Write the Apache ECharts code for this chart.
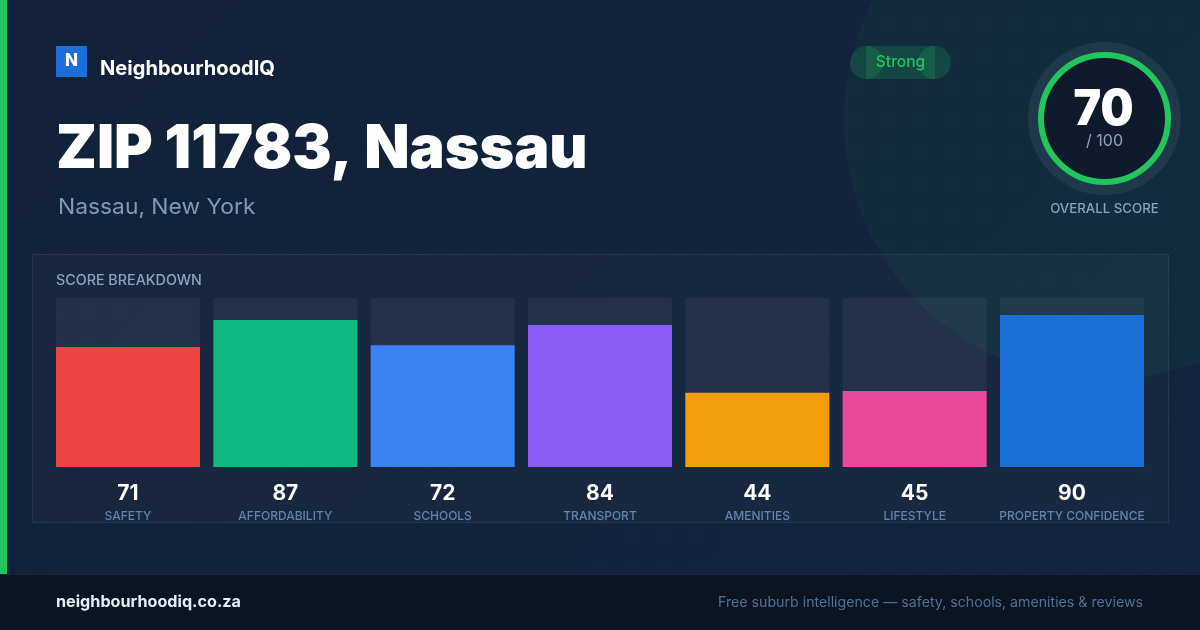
<!DOCTYPE html>
<html>
<head>
<meta charset="utf-8">
<title>ZIP 11783, Nassau</title>
<script src="https://cdn.jsdelivr.net/npm/echarts@6/dist/echarts.min.js"></script>
<style>
html, body { margin: 0; padding: 0; width: 1200px; height: 630px; overflow: hidden; }
body {
    background-color: #11213a;
    background-image: radial-gradient(circle at 24px 24px, rgba(255,255,255,0.04) 1px, transparent 1.5px), linear-gradient(135deg, #11213a, #12243e);
    background-size: 32px 32px, 100% 100%;
}
#main { width: 1200px; height: 630px; }
</style>
</head>
<body>
<div id="main"></div>
<script type="text/javascript">
var categories = ['SAFETY', 'AFFORDABILITY', 'SCHOOLS', 'TRANSPORT', 'AMENITIES', 'LIFESTYLE', 'PROPERTY CONFIDENCE'];
var scores = [71, 87, 72, 84, 44, 45, 90];
var barColors = ['#ef4444', '#10b981', '#3b82f6', '#8b5cf6', '#f59e0b', '#ec4899', '#1d6fd8'];
var overallScore = 70;

var FONT = 'Inter, sans-serif';

var myChart = echarts.init(document.getElementById('main'), null, { renderer: 'canvas' });

// sx stretches the text a little, zrender has no letter spacing
function txt(x, y, text, size, weight, color, align, sx) {
    return {
        type: 'text', x: x, y: y, scaleX: sx || 1, z: 10,
        style: {
            text: text, fontFamily: FONT, fontSize: size, fontWeight: weight,
            fill: color, align: align || 'left', verticalAlign: 'middle'
        }
    };
}

var option = {
    backgroundColor: 'transparent',
    animation: false,
    grid: { left: 49.33, top: 298, width: 1101.33, height: 169, containLabel: false },
    xAxis: {
        type: 'category',
        data: categories,
        axisLine: { show: false },
        axisTick: { show: false },
        axisLabel: {
            interval: 0,
            margin: 14,
            formatter: function (name, i) {
                return '{v|' + scores[i] + '}\n{n|' + name + '}';
            },
            rich: {
                v: { fontFamily: FONT, fontSize: 21, fontWeight: 700, color: '#ffffff', lineHeight: 26, align: 'center' },
                n: { fontFamily: FONT, fontSize: 12, fontWeight: 500, color: '#6384a9', lineHeight: 18, align: 'center' }
            }
        }
    },
    yAxis: { type: 'value', min: 0, max: 100, show: false },
    series: [{
        type: 'bar',
        barWidth: 144,
        data: scores.map(function (v, i) {
            return { value: v, itemStyle: { color: barColors[i] } };
        }),
        showBackground: true,
        backgroundStyle: { color: 'rgba(255,255,255,0.05)' },
        z: 5
    }],
    graphic: [
        // soft green circle, top right
        { type: 'circle', shape: { cx: 1104, cy: 120, r: 260 }, style: { fill: 'rgba(34,197,94,0.06)' }, z: -10 },
        // left accent and footer
        { type: 'rect', shape: { x: 0, y: 0, width: 7, height: 574 }, style: { fill: '#22c55e' }, z: 1 },
        { type: 'rect', shape: { x: 0, y: 574, width: 1200, height: 56 }, style: { fill: '#0a1423' }, z: 1 },
        { type: 'rect', shape: { x: 0, y: 574, width: 1200, height: 1 }, style: { fill: '#1a2739' }, z: 2 },
        // breakdown card
        { type: 'rect', shape: { x: 32.5, y: 254.5, width: 1136, height: 268 }, style: { fill: 'rgba(255,255,255,0.025)', stroke: 'rgba(255,255,255,0.08)', lineWidth: 1 }, z: 0 },
        // logo
        { type: 'rect', shape: { x: 56, y: 46, width: 31, height: 31 }, style: { fill: '#1d6fd8' }, z: 2 },
        txt(71.5, 61, 'N', 17, 800, '#ffffff', 'center'),
        txt(100, 68.5, 'NeighbourhoodIQ', 20, 700, '#ffffff', 'left', 1.004),
        // heading
        txt(56, 150, 'ZIP 11783, Nassau', 60, 900, '#ffffff', 'left', 0.983),
        txt(58, 207, 'Nassau, New York', 22, 400, '#7f9bb8', 'left', 1.037),
        // badge
        { type: 'circle', shape: { cx: 866.5, cy: 62.5, r: 16.5 }, style: { fill: 'rgba(34,197,94,0.18)' }, z: 2 },
        { type: 'circle', shape: { cx: 934.5, cy: 62.5, r: 16.5 }, style: { fill: 'rgba(34,197,94,0.18)' }, z: 2 },
        { type: 'rect', shape: { x: 866, y: 46, width: 69, height: 33 }, style: { fill: 'rgba(34,197,94,0.18)' }, z: 2 },
        txt(900.5, 62, 'Strong', 16, 500, '#22c55e', 'center', 0.97),
        // overall score ring
        { type: 'circle', shape: { cx: 1104.5, cy: 118.5, r: 76.5 }, style: { fill: 'rgba(255,255,255,0.06)' }, z: 2 },
        { type: 'circle', shape: { cx: 1104.5, cy: 118.5, r: 63.5 }, style: { fill: '#0f1b2d', stroke: '#22c55e', lineWidth: 6 }, z: 3 },
        txt(1103.5, 110, String(overallScore), 49, 900, '#ffffff', 'center', 0.95),
        txt(1104.5, 141, '/ 100', 16, 400, '#8ba3bf', 'center'),
        txt(1104.5, 209, 'OVERALL SCORE', 13, 500, '#8ba3bf', 'center', 1.02),
        // card title
        txt(56, 281, 'SCORE BREAKDOWN', 14, 500, '#8ba3bf', 'left', 1.021),
        // footer text
        txt(56, 602.5, 'neighbourhoodiq.co.za', 16, 700, '#e8eef5', 'left', 1.011),
        txt(1143, 602.5, 'Free suburb intelligence \u2014 safety, schools, amenities & reviews', 14, 400, '#4f7299', 'right', 1.012)
    ]
};

myChart.setOption(option);
</script>
</body>
</html>
